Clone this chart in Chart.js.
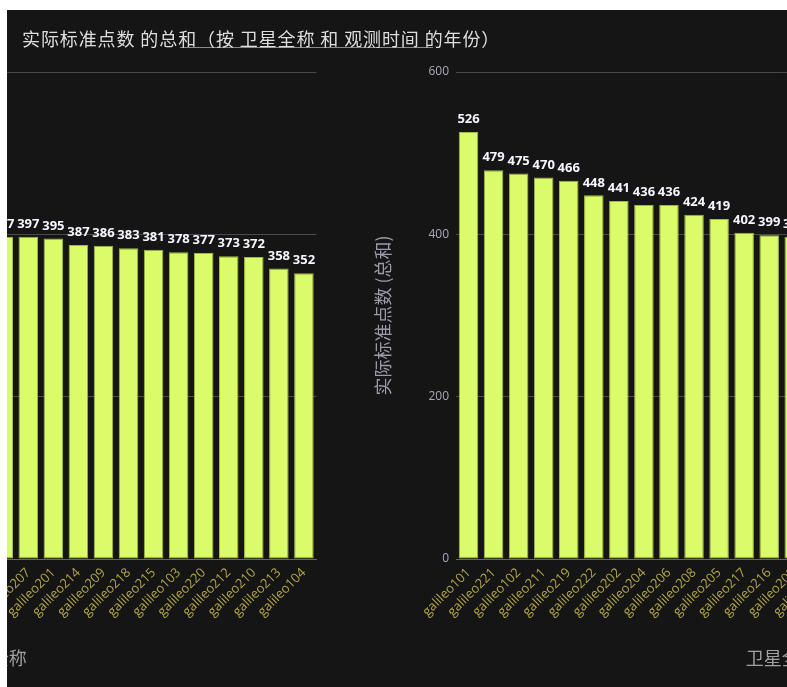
<!DOCTYPE html>
<html><head><meta charset="utf-8">
<script src="https://cdn.jsdelivr.net/npm/chart.js@4"></script>
<style>
html,body{margin:0;padding:0;background:#fff;width:787px;height:687px;overflow:hidden;}
#panel{position:absolute;left:7px;top:10px;width:780px;height:677px;background:#151515;overflow:hidden;}
.tile{position:absolute;top:0;height:677px;overflow:hidden;}
#tileL{left:0;width:338px;}
#tileR{left:338px;width:442px;}
.tile canvas{position:absolute;top:0;}
#cL{left:-437.6px;}
#cR{left:15px;}
#title{position:absolute;left:15px;top:17px;font:18px 'Noto Sans CJK SC','Open Sans',sans-serif;line-height:22px;color:#dedede;white-space:nowrap;letter-spacing:0.9px;}
#uline{position:absolute;left:173px;top:37px;width:253px;height:1px;background:#8a8a8a;}
</style></head>
<body>
<div id="panel">
  <div class="tile" id="tileL"><canvas id="cL" width="752" height="677"></canvas></div>
  <div class="tile" id="tileR"><canvas id="cR" width="752" height="677"></canvas></div>
  <div id="uline"></div>
  <div id="title">实际标准点数 的总和（按 卫星全称 和 观测时间 的年份）</div>
</div>
<script>
const satellites = ['galileo101','galileo221','galileo102','galileo211','galileo219','galileo222','galileo202','galileo204','galileo206','galileo208','galileo205','galileo217','galileo216','galileo203','galileo207','galileo201','galileo214','galileo209','galileo218','galileo215','galileo103','galileo220','galileo212','galileo210','galileo213','galileo104'];
const pointSums = [526,479,475,470,466,448,441,436,436,424,419,402,399,397,397,395,387,386,383,381,378,377,373,372,358,352];
const yTickValues = [0,200,400,600];
const yAxisTitle = '实际标准点数 (总和)';
const xAxisTitle = '卫星全称';

const valueLabels = {
  id:'valueLabels',
  afterDatasetsDraw(chart){
    const ctx = chart.ctx;
    const meta = chart.getDatasetMeta(0);
    ctx.save();
    ctx.font = 'bold 13px "Open Sans", sans-serif';
    ctx.fillStyle = '#f6f6ff';
    ctx.textAlign = 'center';
    ctx.textBaseline = 'bottom';
    meta.data.forEach((bar,i)=>{
      ctx.fillText(String(chart.data.datasets[0].data[i]), bar.x, bar.y - 6);
    });
    ctx.restore();
  }
};

function makeChart(id){
  return new Chart(document.getElementById(id), {
    type:'bar',
    data:{
      labels: satellites,
      datasets:[{
        data: pointSums,
        backgroundColor:'#dafc68',
        borderColor:'#a3b64a',
        borderWidth:1,
        borderSkipped:false,
        categoryPercentage:1,
        barPercentage:0.78
      }]
    },
    options:{
      responsive:false,
      animation:false,
      devicePixelRatio:1,
      layout:{padding:{top:62,right:3,left:0,bottom:0}},
      plugins:{legend:{display:false},tooltip:{enabled:false},title:{display:false}},
      scales:{
        x:{
          grid:{display:false,drawTicks:false},
          border:{display:true,color:'#6b6a3e',width:1},
          ticks:{autoSkip:false,minRotation:45,maxRotation:45,padding:6,color:'#b2a648',
                 font:{family:"'Open Sans',sans-serif",size:13}},
          title:{display:true,text:xAxisTitle,color:'#a0a0a0',padding:{top:0,bottom:18},
                 font:{family:"'Noto Sans CJK SC',sans-serif",size:18,lineHeight:1.2}},
          afterFit(s){s.height=128;}
        },
        y:{
          min:0,max:600,
          afterBuildTicks(s){s.ticks = yTickValues.map(v=>({value:v}));},
          grid:{color:'#4a4a4a',lineWidth:1,drawTicks:false},
          border:{display:false},
          ticks:{padding:7,color:'#a9a9bb',font:{family:"'Open Sans',sans-serif",size:12}},
          title:{display:true,text:yAxisTitle,color:'#9a9aaa',padding:{top:12,bottom:0},
                 font:{family:"'Noto Sans CJK SC',sans-serif",size:18,lineHeight:1.2}},
          afterFit(s){s.width=96;}
        }
      }
    },
    plugins:[valueLabels]
  });
}
makeChart('cL');
makeChart('cR');
</script>
</body></html>
